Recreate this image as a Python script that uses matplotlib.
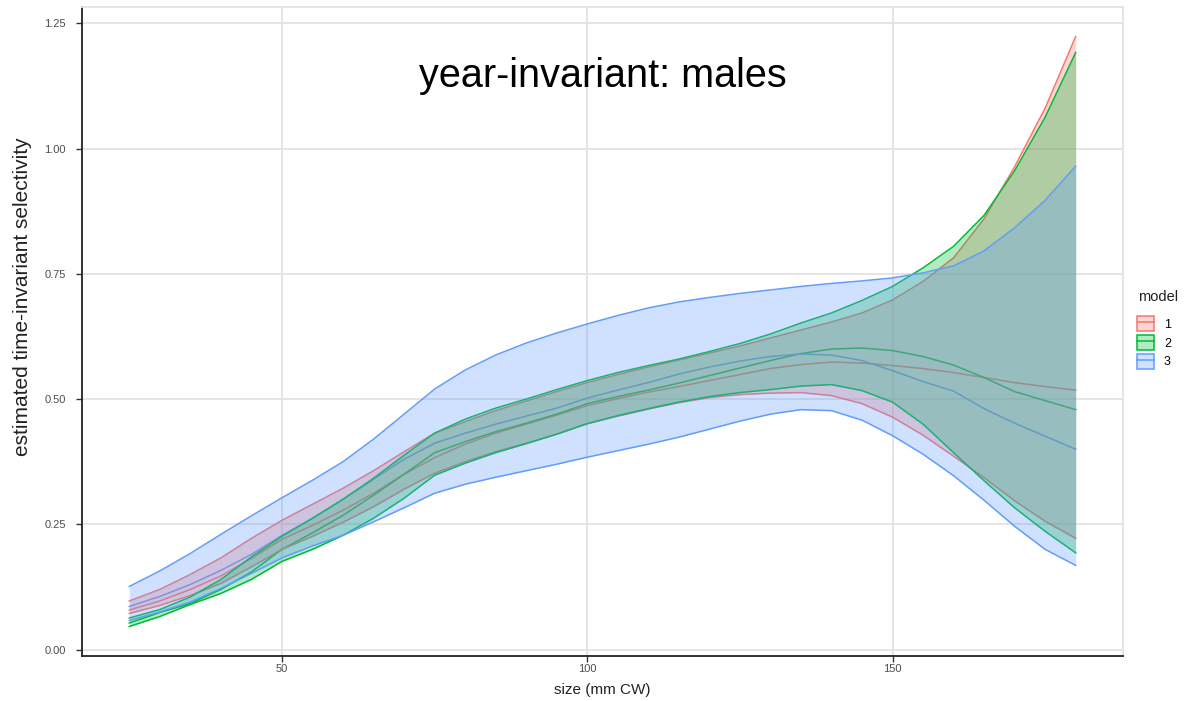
import matplotlib
matplotlib.use("Agg")
import matplotlib.pyplot as plt
from matplotlib.patches import Patch
from matplotlib.lines import Line2D

# size classes (mm CW)
sizes = [25, 30, 35, 40, 45, 50, 55, 60, 65, 70, 75, 80, 85, 90, 95, 100,
         105, 110, 115, 120, 125, 130, 135, 140, 145, 150, 155, 160, 165, 170, 175, 180]

# model 1
m1_lo = [.072, .088, .108, .132, .165, .200, .226, .254, .285, .320, .352, .375, .395, .412, .430, .451,
         .466, .480, .493, .503, .509, .512, .513, .507, .491, .464, .428, .386, .343, .297, .256, .222]
m1_med = [.079, .097, .120, .147, .182, .220, .248, .278, .312, .350, .383, .410, .432, .450, .468, .487,
          .501, .514, .525, .537, .549, .561, .569, .574, .572, .567, .561, .553, .543, .533, .525, .518]
m1_hi = [.097, .120, .150, .183, .222, .258, .290, .322, .357, .395, .432, .455, .477, .496, .515, .533,
         .549, .564, .578, .592, .606, .622, .638, .654, .672, .698, .735, .782, .860, .964, 1.081, 1.224]

# model 2
m2_lo = [.046, .066, .090, .112, .140, .176, .200, .228, .262, .302, .348, .372, .393, .411, .430, .451,
         .467, .481, .494, .505, .513, .519, .526, .529, .517, .494, .450, .393, .337, .283, .236, .193]
m2_med = [.053, .074, .092, .120, .155, .200, .233, .268, .308, .350, .393, .415, .435, .452, .470, .491,
          .505, .518, .532, .547, .562, .577, .591, .600, .602, .597, .585, .568, .543, .515, .497, .479]
m2_hi = [.063, .080, .105, .140, .185, .226, .262, .300, .342, .388, .432, .460, .482, .500, .519, .537,
         .553, .567, .580, .595, .611, .630, .652, .672, .697, .725, .762, .805, .867, .956, 1.063, 1.192]

# model 3
m3_lo = [.058, .075, .095, .122, .152, .183, .207, .228, .255, .283, .312, .330, .344, .357, .370, .384,
         .397, .410, .424, .440, .456, .470, .479, .477, .458, .427, .390, .347, .298, .246, .200, .168]
m3_med = [.086, .106, .130, .158, .190, .228, .262, .300, .340, .380, .412, .432, .450, .466, .482, .502,
          .518, .533, .550, .564, .576, .585, .590, .588, .577, .557, .535, .516, .481, .452, .426, .400]
m3_hi = [.126, .157, .192, .230, .267, .303, .338, .375, .420, .470, .520, .558, .588, .612, .632, .650,
         .667, .682, .694, .703, .711, .718, .725, .731, .736, .742, .752, .766, .796, .842, .897, .965]

models = ["1", "2", "3"]
colors = ["#F8766D", "#00BA38", "#619CFF"]
bands = [(m1_lo, m1_med, m1_hi), (m2_lo, m2_med, m2_hi), (m3_lo, m3_med, m3_hi)]

plt.rcParams["font.family"] = ["Liberation Sans", "DejaVu Sans"]

W, H = 1196, 701
fig = plt.figure(figsize=(W / 100, H / 100), dpi=100)
ax = fig.add_axes([82 / W, 1 - 656 / H, (1123 - 82) / W, (656 - 7) / H])

# median lines first, ribbons drawn on top (ggplot layer order)
for (lo, med, hi), c in zip(bands, colors):
    ax.plot(sizes, med, color=c, lw=1.1, zorder=2)
for (lo, med, hi), c in zip(bands, colors):
    ax.fill_between(sizes, lo, hi, color=c, alpha=0.3, lw=0, zorder=3)
    ax.plot(sizes, lo, color=c, lw=1.1, zorder=3)
    ax.plot(sizes, hi, color=c, lw=1.1, zorder=3)

ax.margins(x=0.05, y=0.05)
ax.set_xticks([50, 100, 150])
ax.set_yticks([0, 0.25, 0.5, 0.75, 1.0, 1.25])
ax.set_yticklabels(["0.00", "0.25", "0.50", "0.75", "1.00", "1.25"])
ax.grid(True, color="#e3e3e3", lw=1.3, zorder=0)
ax.set_axisbelow(True)
ax.tick_params(direction="out", length=4.5, width=1, color="#333333",
               labelcolor="#4d4d4d", labelsize=8)
ax.tick_params(axis="y", pad=7)
ax.tick_params(axis="x", pad=1.5)
for side in ["left", "bottom"]:
    ax.spines[side].set_color("#222222")
    ax.spines[side].set_linewidth(1.3)
for side in ["top", "right"]:
    ax.spines[side].set_color("#e3e3e3")
    ax.spines[side].set_linewidth(1.3)

ax.set_xlabel("size (mm CW)", fontsize=11, color="#222222", labelpad=6)
ax.set_ylabel("estimated time-invariant selectivity", fontsize=15, color="#222222")
ax.yaxis.set_label_coords(-0.0485, 0.553)
ax.text(0.5, 0.893, "year-invariant: males", transform=ax.transAxes, ha="center", va="center",
        fontsize=28.5, color="black")

# legend: title placed separately so the gap to the keys matches
fig.text(1138 / W, 1 - 297 / H, "model", fontsize=10.5, color="#222222", ha="left", va="center")
handles = [(Patch(facecolor=c, alpha=0.3, edgecolor="none"),
            Patch(facecolor="none", edgecolor=c, lw=1.1),
            Line2D([], [], color=c, lw=1.1)) for c in colors]
fig.legend(handles, models, loc="upper left",
           bbox_to_anchor=(1132 / W, 1 - 311 / H), frameon=False,
           fontsize=9, handlelength=1.35, handleheight=1.45,
           labelspacing=0.33, handletextpad=0.8, borderaxespad=0)

fig.savefig("out.png", dpi=100)
